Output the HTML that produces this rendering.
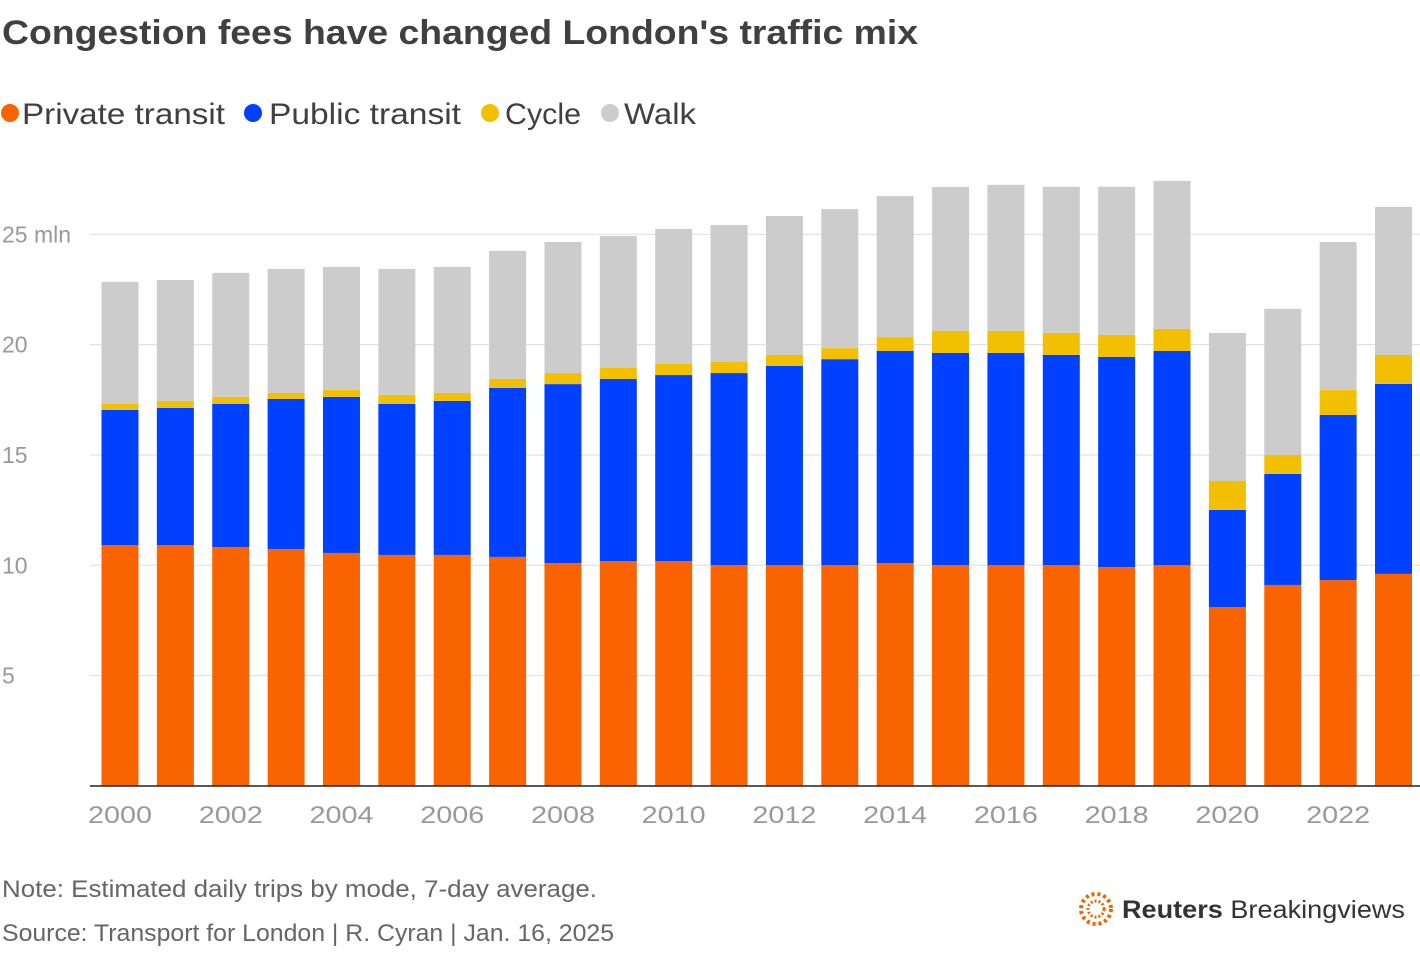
<!DOCTYPE html>
<html><head><meta charset="utf-8"><style>
body{margin:0;background:#fff;width:1420px;height:948px;overflow:hidden;font-family:"Liberation Sans",sans-serif}
</style></head><body>
<svg width="1420" height="948" xmlns="http://www.w3.org/2000/svg">
<text x="2" y="44" font-size="34" font-weight="bold" fill="#404040" textLength="916" lengthAdjust="spacingAndGlyphs">Congestion fees have changed London's traffic mix</text>
<g id="legend" font-size="30" fill="#404040"></g>
<g id="grid"></g><g id="bars"></g><g id="xlab"></g>
<text x="2" y="897" font-size="24" fill="#666" textLength="595" lengthAdjust="spacingAndGlyphs">Note: Estimated daily trips by mode, 7-day average.</text>
<text x="2" y="941" font-size="24" fill="#666" textLength="612" lengthAdjust="spacingAndGlyphs">Source: Transport for London | R. Cyran | Jan. 16, 2025</text>
<g>
<circle cx="1096" cy="909" r="15" fill="none" stroke="#f06400" stroke-width="4" stroke-dasharray="3 3"/>
<circle cx="1096" cy="909" r="8" fill="none" stroke="#f06400" stroke-width="3" stroke-dasharray="2 2"/>
<text x="1122" y="918" font-size="25" fill="#333" textLength="283" lengthAdjust="spacingAndGlyphs"><tspan font-weight="bold">Reuters</tspan> Breakingviews</text>
</g>
</svg>
<script>
const years=[2000,2001,2002,2003,2004,2005,2006,2007,2008,2009,2010,2011,2012,2013,2014,2015,2016,2017,2018,2019,2020,2021,2022,2023];
const privateT=[10.92,10.92,10.83,10.74,10.56,10.47,10.47,10.38,10.10,10.19,10.19,10.01,10.01,10.01,10.10,10.01,10.01,10.01,9.92,10.01,8.11,9.11,9.33,9.61];
const publicT=[6.12,6.21,6.48,6.80,7.07,6.84,6.98,7.66,8.11,8.25,8.43,8.70,9.02,9.33,9.61,9.61,9.61,9.52,9.52,9.70,4.40,5.03,7.48,8.61];
const cycle=[0.27,0.32,0.32,0.27,0.32,0.41,0.36,0.41,0.50,0.50,0.50,0.50,0.50,0.50,0.63,1.00,1.00,1.00,1.00,1.00,1.31,0.86,1.13,1.31];
const walk=[5.53,5.48,5.62,5.62,5.57,5.71,5.71,5.80,5.94,5.98,6.12,6.21,6.30,6.30,6.39,6.52,6.62,6.62,6.71,6.71,6.71,6.62,6.71,6.71];
const yTicks=[5,10,15,20,25];
const seriesNames=["Private transit","Public transit","Cycle","Walk"];
const colors=["#f96400","#0041ff","#f2c000","#cccccc"];
const NS="http://www.w3.org/2000/svg";
const y=v=>786-v*22.07;
const xc=i=>120+i*55.37;
function mk(t,a,p){const e=document.createElementNS(NS,t);for(const k in a)e.setAttribute(k,a[k]);p.appendChild(e);return e;}
const grid=document.getElementById('grid');
yTicks.forEach(t=>{
 const l=mk('line',{x1:90,x2:1420,y1:y(t),y2:y(t),stroke:'#ddd','stroke-width':1},grid);
 
 
 const tx=mk('text',{x:2,y:y(t)+8,'font-size':23,fill:'#999'},grid);
 tx.textContent=t===25?'25 mln':String(t);
 
 
});
const bars=document.getElementById('bars');
const series=[privateT,publicT,cycle,walk];
years.forEach((yr,i)=>{
 let base=0;
 series.forEach((s,j)=>{
  const top=base+s[i];
  const r=mk('rect',{x:xc(i)-18.5,width:37,y:y(top),height:y(base)-y(top),fill:colors[j]},bars);
  
  
  base=top;
 });
});
const ax=mk('line',{x1:90,x2:1420,y1:786,y2:786,stroke:'#222','stroke-width':1.5},bars);


const xl=document.getElementById('xlab');
years.forEach((yr,i)=>{if(yr%2)return;
 const t=mk('text',{x:xc(i),y:823,'font-size':24,fill:'#999','text-anchor':'middle',textLength:64,lengthAdjust:'spacingAndGlyphs'},xl);
 t.textContent=yr;
 
 
});
const lg=document.getElementById('legend');
const cxs=[10,253,490,610];
const txs=[22,269,505,624];
const tws=[203,192,76,72];
seriesNames.forEach((n,j)=>{
 const c=mk('circle',{cx:cxs[j],cy:113,r:9,fill:colors[j]},lg);
 
 
 const t=mk('text',{x:txs[j],y:124,textLength:tws[j],lengthAdjust:'spacingAndGlyphs'},lg);
 t.textContent=n;
 
 
});
</script>
</body></html>
